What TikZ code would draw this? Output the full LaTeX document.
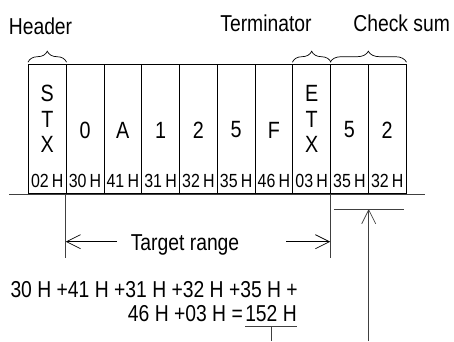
\documentclass[tikz,border=0pt]{standalone}
\usepackage{fontspec}
\setmainfont{Liberation Sans}[FakeStretch=0.84]
\usetikzlibrary{arrows.meta,positioning,calc,decorations.pathreplacing}

\tikzset{
  cell/.style={draw, line width=0.8pt, minimum width=37.77pt, minimum height=129pt, inner sep=0pt, anchor=south west},
  charlbl/.style={font=\fontsize{23.5}{25.5}\selectfont, align=center, inner sep=0pt},
  hexlbl/.style={font=\fontsize{19}{19}\selectfont, inner sep=0pt, anchor=base},
  lbl/.style={font=\fontsize{23}{23}\selectfont, inner sep=0pt, anchor=base},
  eqn/.style={font=\fontsize{23}{23}\selectfont, inner sep=0pt, anchor=base east},
  grp/.style={decorate, decoration={brace, amplitude=11pt}, line width=0.7pt},
  barb/.style={-{Straight Barb[length=14pt, width=14pt]}, line width=0.7pt},
  thin/.style={line width=0.8pt, black!75},
}

\begin{document}
\begin{tikzpicture}[x=1pt, y=1pt]
  \useasboundingbox (0,0) rectangle (454,341);
  % frame cells
  \foreach \ch/\hx/\dy [count=\i from 0] in {{S\\T\\X}/02/75, 0/30/64, A/41/64, 1/31/64, 2/32/64,
      5/35/64, F/46/64, {E\\T\\X}/03/75, 5/35/64, 2/32/64} {
    \node[cell] (c\i) at ({28+37.77*\i},147) {};
    \node[charlbl] (t\i) at ($(c\i.south)+(0,\dy)$) {\ch};
    \node[hexlbl] (h\i) at ($(c\i.south)+(0,7)$) {\hx\,H};
  }
  \draw[thin] (9,147) -- (425,147);

  % group labels
  \draw[grp] ([yshift=2pt]c0.north west) -- ([yshift=2pt]c0.north east);
  \draw[grp] ([yshift=2pt]c7.north west) -- ([yshift=2pt]c7.north east);
  \draw[grp] ([yshift=2pt]c8.north west) -- ([yshift=2pt]c9.north east);
  \node[lbl] (hdr) at (40.5,306.7) {Header};
  \node[lbl] (term) at (266,309.3) {Terminator};
  \node[lbl] (cks) at (401.7,309.3) {Check sum};

  % target range
  \coordinate (lo) at ($(c1.south west)+(0,-64)$);
  \coordinate (hi) at ($(c8.south west)+(0,-64)$);
  \draw[thin] (c1.south west) -- (lo);
  \draw[thin] (c8.south west) -- (hi);
  \node[lbl] (rng) at (185,91) {Target range};
  \coordinate (al) at (117,99.3);
  \coordinate (ar) at (286,99.3);
  \draw[barb] (al) -- (al -| lo);
  \draw[barb] (ar) -- (ar -| hi);

  % check sum
  \coordinate (ck) at ($(c8.south east)+(0,-15)$);
  \draw[thin] ($(c8.south west)+(3.6,-15)$) -- ($(c9.south east)+(-3,-15)$);
  \draw[barb, black!75] (ck |- 0,0) -- (ck);

  % sum formula
  \node[eqn] (ln1) at (298,44) {30 H +41 H +31 H +32 H +35 H +};
  \node[eqn] (sum) at (297,19.5) {152 H};
  \node[eqn] (ln2) at ([xshift=-2pt]sum.base west) {46 H +03 H =};
  \coordinate (ul) at ([yshift=-4.5pt]sum.south);
  \draw[thin] ([yshift=-4.5pt]sum.south west) -- ([yshift=-4.5pt]sum.south east);
  \draw[thin] (ul) -- (ul |- 0,0);
\end{tikzpicture}
\end{document}
